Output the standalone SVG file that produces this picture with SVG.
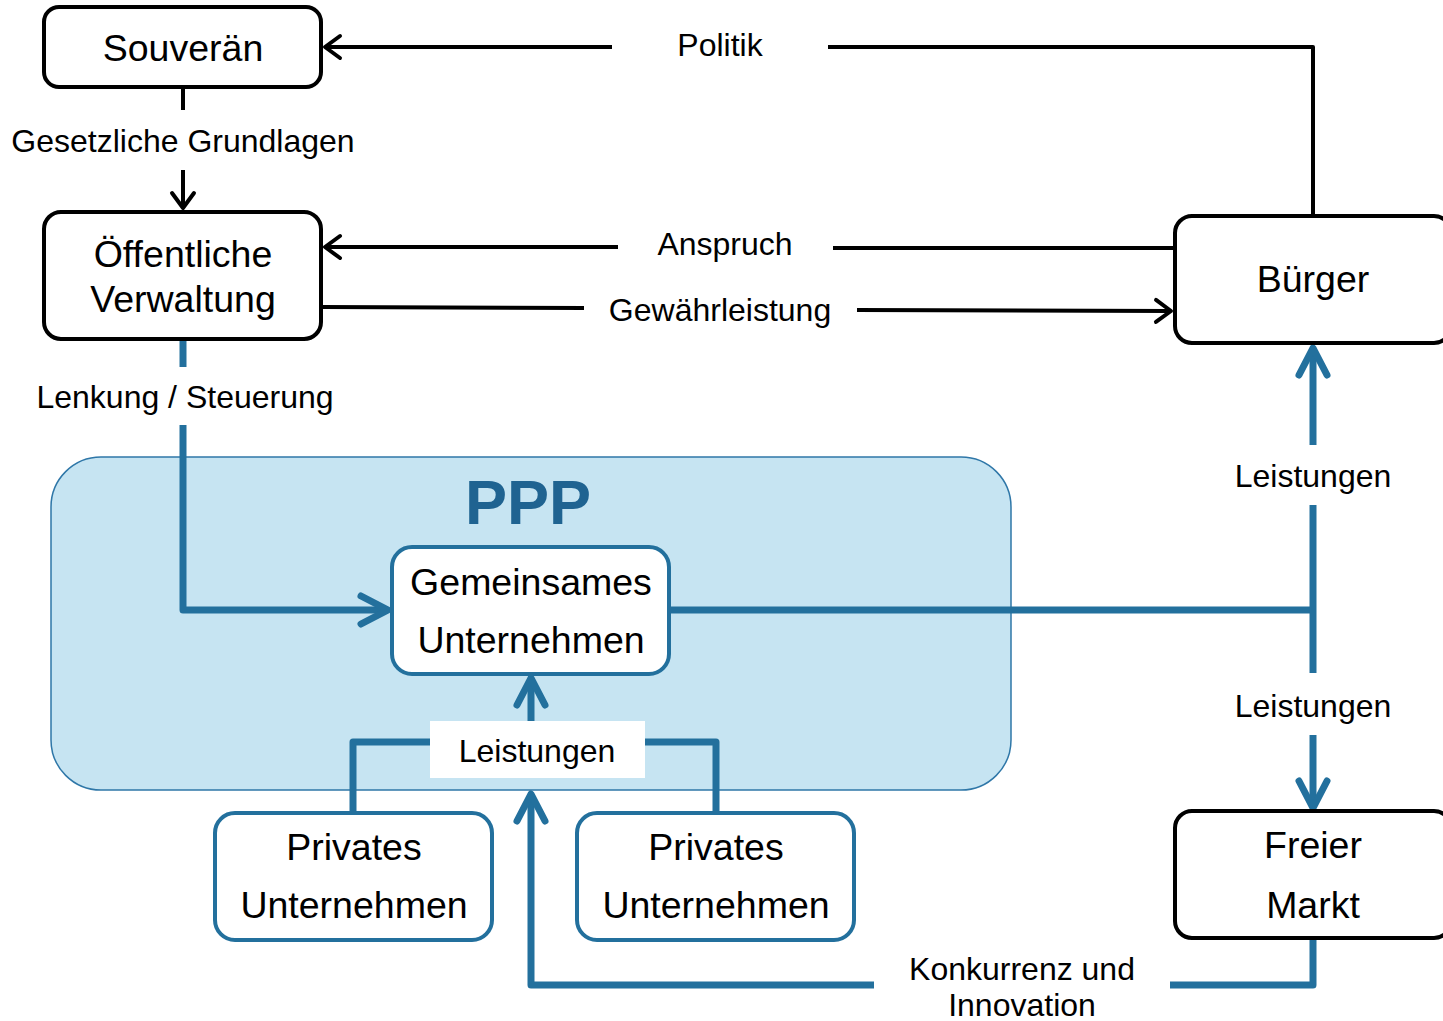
<svg xmlns="http://www.w3.org/2000/svg" width="1443" height="1021" viewBox="0 0 1443 1021">
<style>
.t{font-family:"Liberation Sans",Arial,sans-serif;fill:#000;text-anchor:middle}
.big{font-size:37.5px}
.lbl{font-size:32px}
.bk{fill:#fff;stroke:#000;stroke-width:4}
.bl{fill:#fff;stroke:#23709d;stroke-width:4}
.cb{fill:none;stroke:#000;stroke-width:4;stroke-linejoin:round}
.cu{fill:none;stroke:#23709d;stroke-width:7;stroke-linejoin:round}
</style>
<defs>
<marker id="ab" markerUnits="userSpaceOnUse" markerWidth="40" markerHeight="40" refX="0" refY="0" viewBox="-20 -20 40 40" orient="auto" overflow="visible">
<path d="M-15,-11 L0,0 L-15,11" fill="none" stroke="#000" stroke-width="4" stroke-linecap="round" stroke-linejoin="round"/>
</marker>
<marker id="au" markerUnits="userSpaceOnUse" markerWidth="70" markerHeight="70" refX="0" refY="0" viewBox="-35 -35 70 70" orient="auto" overflow="visible">
<path d="M-27,-14 L0,0 L-27,14" fill="none" stroke="#23709d" stroke-width="7" stroke-linecap="round" stroke-linejoin="round"/>
</marker>
</defs>
<rect width="1443" height="1021" fill="#fff"/>
<g id="ppp">
<rect x="51" y="457" width="960" height="333" rx="50" fill="#c6e4f2" stroke="#2f77a8" stroke-width="1.5"/>
<text x="528" y="524" font-family="Liberation Sans,Arial,sans-serif" font-size="63" font-weight="bold" fill="#1f6391" text-anchor="middle">PPP</text>
</g>
<g id="connectors">
<path class="cb" d="M1313,216 L1313,47 L828,47"/>
<path class="cb" d="M612,47 L325,47" marker-end="url(#ab)"/>
<path class="cb" d="M183,87 L183,110"/>
<path class="cb" d="M183,170 L183,208" marker-end="url(#ab)"/>
<path class="cb" d="M1175,248 L833,248"/>
<path class="cb" d="M618,247 L325,247" marker-end="url(#ab)"/>
<path class="cb" d="M322,307 L584,308"/>
<path class="cb" d="M857,310 L1171,311" marker-end="url(#ab)"/>
<path class="cu" d="M183,339 L183,367"/>
<path class="cu" d="M183,425 L183,610 L388,610" marker-end="url(#au)"/>
<path class="cu" d="M669,610 L1313,610"/>
<path class="cu" d="M1313,445 L1313,348" marker-end="url(#au)"/>
<path class="cu" d="M1313,505 L1313,673"/>
<path class="cu" d="M1313,735 L1313,808" marker-end="url(#au)"/>
<path class="cu" d="M353,813 L353,742 L430,742"/>
<path class="cu" d="M645,742 L716,742 L716,813"/>
<path class="cu" d="M531,721 L531,678" marker-end="url(#au)"/>
<path class="cu" d="M1313,938 L1313,985 L1170,985"/>
<path class="cu" d="M874,985 L531,985 L531,794" marker-end="url(#au)"/>
<rect x="430" y="721" width="215" height="57" fill="#fff"/>
<text class="t lbl" x="720" y="56">Politik</text>
<text class="t lbl" x="183" y="152">Gesetzliche Grundlagen</text>
<text class="t lbl" x="725" y="255">Anspruch</text>
<text class="t lbl" x="720" y="321">Gewährleistung</text>
<text class="t lbl" x="185" y="408">Lenkung / Steuerung</text>
<text class="t lbl" x="1313" y="487">Leistungen</text>
<text class="t lbl" x="1313" y="717">Leistungen</text>
<text class="t lbl" x="537" y="762">Leistungen</text>
<text class="t lbl" x="1022" y="980">Konkurrenz und</text>
<text class="t lbl" x="1022" y="1016">Innovation</text>
</g>
<g id="souveraen">
<rect class="bk" x="44" y="7" width="277" height="80" rx="15"/>
<text class="t big" x="183" y="61">Souverän</text>
</g>
<g id="verwaltung">
<rect class="bk" x="44" y="212" width="277" height="127" rx="17"/>
<text class="t big" x="183" y="267">Öffentliche</text>
<text class="t big" x="183" y="312">Verwaltung</text>
</g>
<g id="buerger">
<rect class="bk" x="1175" y="216" width="276" height="127" rx="17"/>
<text class="t big" x="1313" y="292">Bürger</text>
</g>
<g id="markt">
<rect class="bk" x="1175" y="811" width="276" height="127" rx="17"/>
<text class="t big" x="1313" y="858">Freier</text>
<text class="t big" x="1313" y="918">Markt</text>
</g>
<g id="gemeinsam">
<rect class="bl" x="392" y="547" width="277" height="127" rx="20"/>
<text class="t big" x="531" y="595">Gemeinsames</text>
<text class="t big" x="531" y="653">Unternehmen</text>
</g>
<g id="privat1">
<rect class="bl" x="215" y="813" width="277" height="127" rx="20"/>
<text class="t big" x="354" y="860">Privates</text>
<text class="t big" x="354" y="918">Unternehmen</text>
</g>
<g id="privat2">
<rect class="bl" x="577" y="813" width="277" height="127" rx="20"/>
<text class="t big" x="716" y="860">Privates</text>
<text class="t big" x="716" y="918">Unternehmen</text>
</g>
</svg>
